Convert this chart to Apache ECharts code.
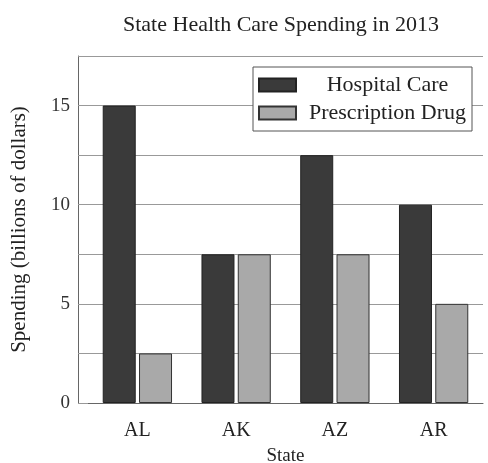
<!DOCTYPE html>
<html>
<head>
<meta charset="utf-8">
<script src="https://cdn.jsdelivr.net/npm/echarts@6/dist/echarts.min.js"></script>
<style>
  html, body { margin: 0; padding: 0; background: #fff; }
  #chart { width: 488px; height: 463px; }
</style>
</head>
<body>
<div id="chart"></div>
<script>
var states = ['AL', 'AK', 'AZ', 'AR'];
var hospitalCare = [15, 7.5, 12.5, 10];
var prescriptionDrug = [2.5, 7.5, 7.5, 5];
var yTicks = [0, 5, 10, 15];

var serif = '"Liberation Serif", "DejaVu Serif", serif';
var chart = echarts.init(document.getElementById('chart'));

chart.setOption({
  animation: false,
  textStyle: { fontFamily: serif },
  title: {
    text: 'State Health Care Spending in 2013',
    left: 118,
    top: 9,
    textStyle: { fontFamily: serif, fontSize: 22, fontWeight: 'normal', color: '#222' }
  },
  legend: {
    orient: 'vertical',
    left: 253,
    top: 67,
    padding: [7, 6, 7, 5],
    itemGap: 6,
    itemWidth: 37,
    itemHeight: 13,
    icon: 'rect',
    backgroundColor: '#fff',
    borderColor: '#555',
    borderWidth: 1,
    formatter: '{t|{name}}',
    textStyle: {
      fontFamily: serif,
      fontSize: 22,
      color: '#222',
      rich: { t: { width: 173, align: 'center', fontFamily: serif, fontSize: 22, color: '#222' } }
    },
    data: ['Hospital Care', 'Prescription Drug']
  },
  grid: { left: 88, right: 5, top: 56, bottom: 60, outerBoundsMode: 'none' },
  xAxis: {
    type: 'category',
    data: states,
    name: 'State',
    nameLocation: 'middle',
    nameGap: 44,
    nameTextStyle: { fontFamily: serif, fontSize: 19, color: '#222' },
    axisLine: { lineStyle: { color: '#666' } },
    axisTick: { show: false },
    axisLabel: { margin: 18, fontFamily: serif, fontSize: 20, color: '#222' }
  },
  yAxis: {
    type: 'value',
    min: 0,
    max: 17.5,
    interval: 2.5,
    offset: 10,
    name: 'Spending (billions of dollars)',
    nameLocation: 'middle',
    nameGap: 48,
    nameTextStyle: { fontFamily: serif, fontSize: 21, color: '#222' },
    axisLine: { show: true, lineStyle: { color: '#666' } },
    axisTick: { show: true, inside: true, length: 10, lineStyle: { color: '#999' } },
    splitLine: { lineStyle: { color: '#999' } },
    axisLabel: {
      margin: 8,
      fontFamily: serif,
      fontSize: 19,
      color: '#333',
      formatter: function (v) {
        return yTicks.indexOf(v) >= 0 ? String(v) : '';
      }
    }
  },
  series: [
    {
      name: 'Hospital Care',
      type: 'bar',
      data: hospitalCare,
      barWidth: 33,
      barGap: '10%',
      itemStyle: { color: '#3a3a3a', borderColor: '#222', borderWidth: 1 }
    },
    {
      name: 'Prescription Drug',
      type: 'bar',
      data: prescriptionDrug,
      barWidth: 33,
      itemStyle: { color: '#a9a9a9', borderColor: '#333', borderWidth: 1 }
    }
  ]
});
</script>
</body>
</html>
